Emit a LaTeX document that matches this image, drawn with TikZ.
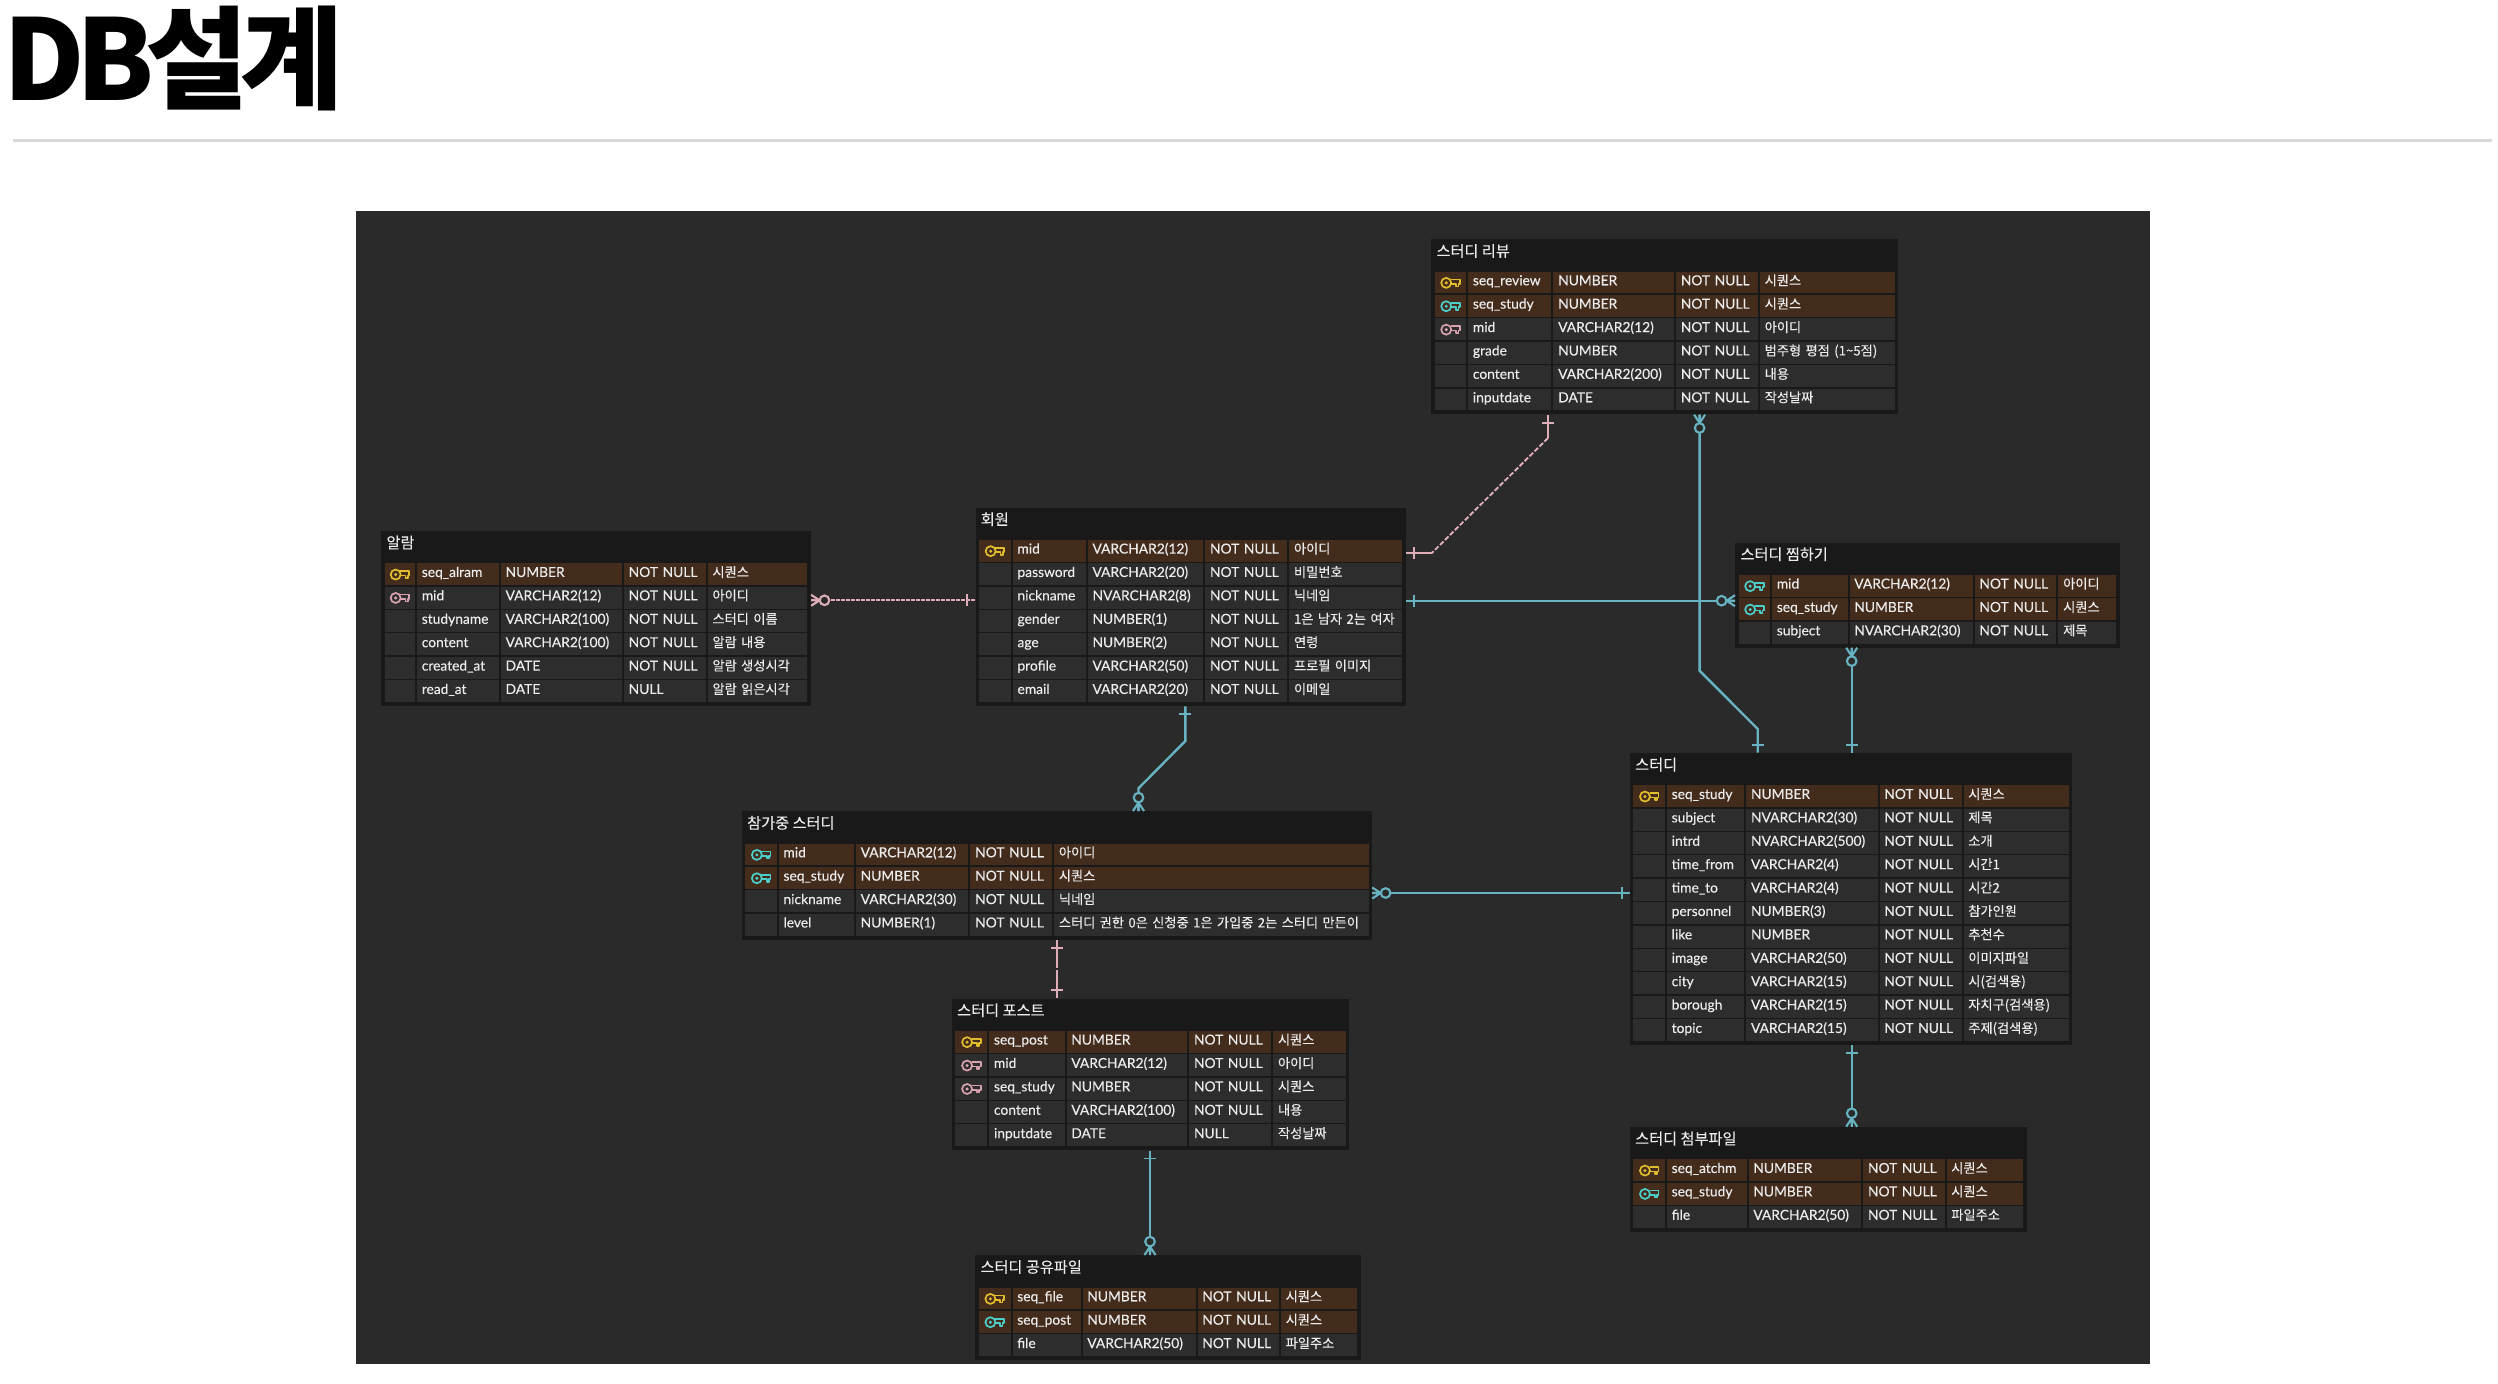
\documentclass[tikz,border=0pt]{standalone}
\usepackage{fontspec}
\setmainfont[FakeBold=0.25]{Lato}
\newfontfamily\krfont[FakeBold=0.2]{Noto Sans CJK KR}
\newfontfamily\pagefont[LetterSpace=-7.5]{Noto Sans CJK KR}
\usetikzlibrary{calc}
\definecolor{canvasbg}{HTML}{2A2A2A}
\definecolor{framebg}{HTML}{191919}
\definecolor{cellbg}{HTML}{2D2D2D}
\definecolor{pkbg}{HTML}{432C1C}
\definecolor{celltext}{HTML}{ECECEC}
\definecolor{keyyellow}{HTML}{E2BE2E}
\definecolor{keyteal}{HTML}{4CCFCB}
\definecolor{keypink}{HTML}{D8A2AE}
\definecolor{lineteal}{HTML}{68B3C2}
\definecolor{linepink}{HTML}{DDAEB8}
\tikzstyle{tableframe}=[
	rectangle,
	fill=framebg,
	anchor=north west,
	inner sep=0pt
]
\tikzstyle{tabletitle}=[
	anchor=base west,
	inner sep=0pt,
	text=white!92!black,
	font=\krfont\fontsize{15.2}{17}\selectfont
]
\tikzstyle{cell}=[
	rectangle,
	anchor=north west,
	minimum height=21.9pt,
	inner xsep=4.8pt,
	inner ysep=0pt,
	text=celltext,
	text height=10pt,
	text depth=4.4pt,
	align=left,
	font=\fontsize{13.8}{16}\selectfont
]
\tikzstyle{notecell}=[
	cell,
	font=\krfont\fontsize{13.2}{16}\selectfont
]
\tikzstyle{rowpk}=[fill=pkbg]
\tikzstyle{rowpf}=[fill=pkbg]
\tikzstyle{rowfk}=[fill=cellbg]
\tikzstyle{rowno}=[fill=cellbg]
\tikzstyle{relteal}=[color=lineteal, line width=2.4pt]
\tikzstyle{relpink}=[color=linepink, line width=2.2pt]
\tikzset{
	keyicon/.pic={
		\draw[line width=1.7pt] (-4.2,0.4) circle (5);
		\fill (-4.2,0.4) circle (1.7);
		\draw[line width=1.7pt, line join=round] (0.4,-3) -- (9.4,-3) -- (9.4,1.2) -- (8,1.2) -- (8,4) -- (5.6,4) -- (5.6,1.2) -- (0.4,1.2);
	},
	onemark/.pic={
		\draw[line width=1.9pt] (8,-6) -- (8,6);
	},
	manymark/.pic={
		\draw[line width=2.1pt] (0,-5.5) -- (8.5,0) -- (0,5.5) (0,0) -- (8.5,0);
		\draw[line width=2.1pt, fill=canvasbg] (13.4,0) circle (4.8);
	},
	keycellpk/.style={rowpk, path picture={\pic[color=keyyellow] at (path picture bounding box.center) {keyicon};}},
	keycellpf/.style={rowpf, path picture={\pic[color=keyteal] at (path picture bounding box.center) {keyicon};}},
	keycellfk/.style={rowfk, path picture={\pic[color=keypink] at (path picture bounding box.center) {keyicon};}},
	keycellno/.style={rowno}
}
\def\setcols#1/#2/#3/#4\relax{\def\colb{#1}\def\colc{#2}\def\cold{#3}\def\cole{#4}}
% id, title, left, top, right, number of rows, column edges, rows
\newcommand{\ertable}[8]{
	\setcols#7\relax
	\pgfmathsetmacro\framew{#5-#3}
	\pgfmathsetmacro\frameh{32.3+#6*23.4+2.5}
	\pgfmathsetmacro\cola{#3+3.5}
	\pgfmathsetmacro\widea{\colb-2-\cola}
	\pgfmathsetmacro\wideb{\colc-2-\colb-9.6}
	\pgfmathsetmacro\widec{\cold-2-\colc-9.6}
	\pgfmathsetmacro\wided{\cole-2-\cold-9.6}
	\pgfmathsetmacro\widee{#5-3.5-\cole-9.6}
	\node [tableframe, minimum width=\framew pt, minimum height=\frameh pt] (#1) at (#3,#4) {};
	\node [tabletitle] (#1-title) at ($(#1.north west)+(5.3,17.6)$) {#2};
	\foreach \kind/\fname/\ftype/\fnull/\fnote [count=\r from 0] in {#8} {
		\pgfmathsetmacro\rowy{#4+32.3+\r*23.4}
		\node [cell, keycell\kind, minimum width=\widea pt] (#1-\r-key) at (\cola,\rowy) {};
		\node [cell, row\kind, text width=\wideb pt] (#1-\r-name) at (\colb,\rowy) {\mbox{\fname}};
		\node [cell, row\kind, text width=\widec pt] (#1-\r-type) at (\colc,\rowy) {\mbox{\ftype}};
		\node [cell, row\kind, text width=\wided pt] (#1-\r-null) at (\cold,\rowy) {\mbox{\fnull}};
		\node [notecell, row\kind, text width=\widee pt] (#1-\r-note) at (\cole,\rowy) {\mbox{\fnote}};
	}
}
\begin{document}
\begin{tikzpicture}[x=1pt, y=-1pt]
\path [use as bounding box, fill=white] (0,0) rectangle (2498,1384);
\node [anchor=base west, inner sep=0pt, font=\pagefont\bfseries\fontsize{112}{112}\selectfont] (pagetitle) at (3,100) {DB설계};
\draw [color=black!15, line width=3pt] (13,140) -- (2492,140);
\fill [canvasbg] (356,211) rectangle (2150,1363.5);
\ertable{review}{스터디 리뷰}{1431}{239}{1898}{6}{1467.9/1553.2/1675.8/1759.7}{
	pk/seq\_review/NUMBER/NOT NULL/시퀀스,
	pf/seq\_study/NUMBER/NOT NULL/시퀀스,
	fk/mid/VARCHAR2(12)/NOT NULL/아이디,
	no/grade/NUMBER/NOT NULL/범주형 평점 (1\textasciitilde5점),
	no/content/VARCHAR2(200)/NOT NULL/내용,
	no/inputdate/DATE/NOT NULL/작성날짜}
\ertable{alarm}{알람}{381}{530.7}{810.7}{6}{416.8/500.6/623.7/707.5}{
	pk/seq\_alram/NUMBER/NOT NULL/시퀀스,
	fk/mid/VARCHAR2(12)/NOT NULL/아이디,
	no/studyname/VARCHAR2(100)/NOT NULL/스터디 이름,
	no/content/VARCHAR2(100)/NOT NULL/알람 내용,
	no/created\_at/DATE/NOT NULL/알람 생성시각,
	no/read\_at/DATE/NULL/알람 읽은시각}
\ertable{member}{회원}{975.3}{507.3}{1405.3}{7}{1012.5/1087.5/1205/1289}{
	pk/mid/VARCHAR2(12)/NOT NULL/아이디,
	no/password/VARCHAR2(20)/NOT NULL/비밀번호,
	no/nickname/NVARCHAR2(8)/NOT NULL/닉네임,
	no/gender/NUMBER(1)/NOT NULL/1은 남자 2는 여자,
	no/age/NUMBER(2)/NOT NULL/연령,
	no/profile/VARCHAR2(50)/NOT NULL/프로필 이미지,
	no/email/VARCHAR2(20)/NOT NULL/이메일}
\ertable{like}{스터디 찜하기}{1735}{542.3}{2119.3}{3}{1771.8/1849.3/1974.4/2058.2}{
	pf/mid/VARCHAR2(12)/NOT NULL/아이디,
	pf/seq\_study/NUMBER/NOT NULL/시퀀스,
	no/subject/NVARCHAR2(30)/NOT NULL/제목}
\ertable{study}{스터디}{1629.7}{752.7}{2072}{11}{1666.7/1746/1879.3/1963.3}{
	pk/seq\_study/NUMBER/NOT NULL/시퀀스,
	no/subject/NVARCHAR2(30)/NOT NULL/제목,
	no/intrd/NVARCHAR2(500)/NOT NULL/소개,
	no/time\_from/VARCHAR2(4)/NOT NULL/시간1,
	no/time\_to/VARCHAR2(4)/NOT NULL/시간2,
	no/personnel/NUMBER(3)/NOT NULL/참가인원,
	no/like/NUMBER/NOT NULL/추천수,
	no/image/VARCHAR2(50)/NOT NULL/이미지파일,
	no/city/VARCHAR2(15)/NOT NULL/시(검색용),
	no/borough/VARCHAR2(15)/NOT NULL/자치구(검색용),
	no/topic/VARCHAR2(15)/NOT NULL/주제(검색용)}
\ertable{attach}{스터디 첨부파일}{1629.7}{1126.7}{2026.7}{3}{1666.7/1748.3/1863/1946.3}{
	pk/seq\_atchm/NUMBER/NOT NULL/시퀀스,
	pf/seq\_study/NUMBER/NOT NULL/시퀀스,
	no/file/VARCHAR2(50)/NOT NULL/파일주소}
\ertable{joined}{참가중 스터디}{741.7}{811}{1371.8}{4}{778.5/855.7/970.2/1053.9}{
	pf/mid/VARCHAR2(12)/NOT NULL/아이디,
	pf/seq\_study/NUMBER/NOT NULL/시퀀스,
	no/nickname/VARCHAR2(30)/NOT NULL/닉네임,
	no/level/NUMBER(1)/NOT NULL/스터디 권한 0은 신청중 1은 가입중 2는 스터디 만든이}
\ertable{post}{스터디 포스트}{951.7}{998.3}{1349}{5}{989/1066.3/1189/1273}{
	pk/seq\_post/NUMBER/NOT NULL/시퀀스,
	fk/mid/VARCHAR2(12)/NOT NULL/아이디,
	fk/seq\_study/NUMBER/NOT NULL/시퀀스,
	no/content/VARCHAR2(100)/NOT NULL/내용,
	no/inputdate/DATE/NULL/작성날짜}
\ertable{shared}{스터디 공유파일}{975}{1255}{1360.7}{3}{1012.3/1082.3/1197.3/1280.7}{
	pk/seq\_file/NUMBER/NOT NULL/시퀀스,
	pf/seq\_post/NUMBER/NOT NULL/시퀀스,
	no/file/VARCHAR2(50)/NOT NULL/파일주소}
% bends
\coordinate (reviewbenda) at (1548,438);
\coordinate (reviewbendb) at (1431.5,553.3);
\coordinate (studybenda) at (1699.6,670.7);
\coordinate (studybendb) at (1757.7,729);
\coordinate (joinbenda) at (1185.3,741);
\coordinate (joinbendb) at (1138.5,788.3);
\coordinate (likerow) at (1500,600.7);
\coordinate (alarmrow) at (900,600.3);
\coordinate (studyrow) at (1500,893);
\coordinate (likecol) at (1851.7,700);
\coordinate (postcol) at (1057,970);
\coordinate (sharedcol) at (1150,1200);
% relations
\draw [relpink] (reviewbenda |- review.south) -- (reviewbenda);
\draw [relpink, line width=1.9pt, dash pattern=on 5pt off 2pt] (reviewbenda) -- (reviewbendb);
\draw [relpink] (reviewbendb) -- (reviewbendb -| member.east);
\pic [relpink, rotate=-90] at (reviewbenda |- review.south) {onemark};
\pic [relpink] at (reviewbendb -| member.east) {onemark};
\draw [relteal] (likerow -| member.east) -- (likerow -| like.west);
\pic [relteal] at (likerow -| member.east) {onemark};
\pic [relteal, rotate=180] at (likerow -| like.west) {manymark};
\draw [relpink, dash pattern=on 3.5pt off 1.5pt] (alarmrow -| alarm.east) -- (alarmrow -| member.west);
\pic [relpink] at (alarmrow -| alarm.east) {manymark};
\pic [relpink, rotate=180] at (alarmrow -| member.west) {onemark};
\draw [relteal] (studybenda |- review.south) -- (studybenda) -- (studybendb) -- (studybendb |- study.north);
\pic [relteal, rotate=-90] at (studybenda |- review.south) {manymark};
\pic [relteal, rotate=90] at (studybendb |- study.north) {onemark};
\draw [relteal] (likecol |- like.south) -- (likecol |- study.north);
\pic [relteal, rotate=-90] at (likecol |- like.south) {manymark};
\pic [relteal, rotate=90] at (likecol |- study.north) {onemark};
\draw [relteal] (likecol |- study.south) -- (likecol |- attach.north);
\pic [relteal, rotate=-90] at (likecol |- study.south) {onemark};
\pic [relteal, rotate=90] at (likecol |- attach.north) {manymark};
\draw [relteal] (joinbenda |- member.south) -- (joinbenda) -- (joinbendb) -- (joinbendb |- joined.north);
\pic [relteal, rotate=-90] at (joinbenda |- member.south) {onemark};
\pic [relteal, rotate=90] at (joinbendb |- joined.north) {manymark};
\draw [relteal] (studyrow -| joined.east) -- (studyrow -| study.west);
\pic [relteal] at (studyrow -| joined.east) {manymark};
\pic [relteal, rotate=180] at (studyrow -| study.west) {onemark};
\draw [relpink, dash pattern=on 28pt off 2pt] (postcol |- joined.south) -- (postcol |- post.north);
\pic [relpink, rotate=-90] at (postcol |- joined.south) {onemark};
\pic [relpink, rotate=90] at (postcol |- post.north) {onemark};
\draw [relteal] (sharedcol |- post.south) -- (sharedcol |- shared.north);
\pic [relteal, rotate=-90] at (sharedcol |- post.south) {onemark};
\pic [relteal, rotate=90] at (sharedcol |- shared.north) {manymark};
\end{tikzpicture}
\end{document}
